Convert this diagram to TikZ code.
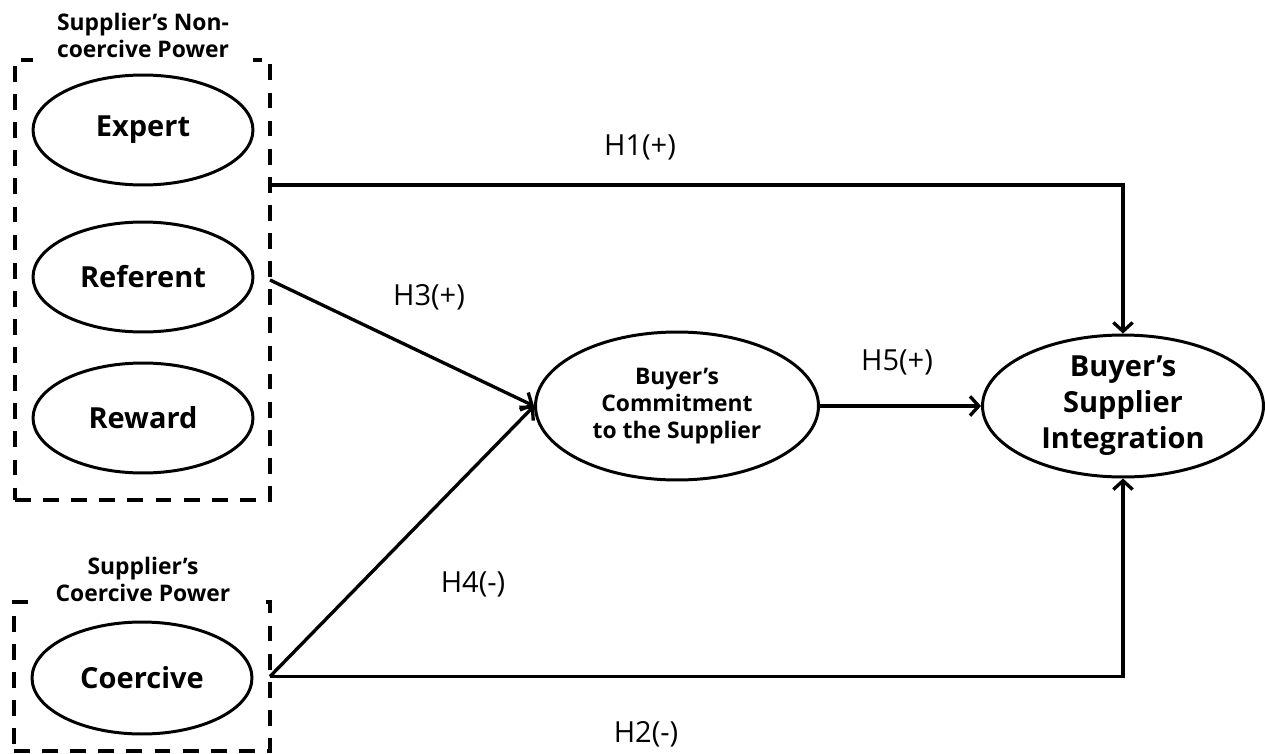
\documentclass[tikz,border=0pt]{standalone}
\usepackage{fontspec}
\setmainfont{Open Sans}
\usetikzlibrary{arrows.meta,shapes.geometric}

\begin{document}
\begin{tikzpicture}[x=0.02cm,y=-0.02cm,
  construct/.style={draw,ellipse,line width=1.7pt,inner sep=0pt,minimum width=4.4cm,minimum height=2.2cm,align=center,font=\bfseries\fontsize{16.5}{20.5}\selectfont},
  group/.style={draw,dash pattern=on 9pt off 7pt,line width=2pt,inner sep=0pt,outer sep=0pt},
  grouptitle/.style={fill=white,align=center,minimum width=4.4cm,inner ysep=8pt,font=\bfseries\fontsize{13}{15.4}\selectfont},
  hyp/.style={line width=1.9pt,-{Straight Barb[length=5pt,width=11pt,line width=1.9pt]}},
  hlabel/.style={font=\fontsize{16.5}{19}\selectfont}]
  \useasboundingbox (0,0) rectangle (1265,754);

  \node[group,minimum width=5.1cm,minimum height=8.8cm] (nonc) at (142.5,280) {};
  \node[grouptitle] (nonctitle) at (143,35) {Supplier’s Non-\\coercive Power};
  \node[group,minimum width=5.12cm,minimum height=2.98cm] (coer) at (142,676.5) {};
  \node[grouptitle] (coertitle) at (143,579) {Supplier’s\\Coercive Power};

  \node[construct] (expert) at (143,130) {Expert};
  \node[construct] (referent) at (143,277) {Referent};
  \node[construct] (reward) at (143,418) {Reward};
  \node[construct,minimum height=2.24cm] (coercive) at (142,678) {Coercive};
  \node[construct,minimum width=5.66cm,minimum height=2.96cm,font=\bfseries\fontsize{13}{15.4}\selectfont] (commit) at (677,406) {Buyer’s\\Commitment\\to the Supplier};
  \node[construct,minimum width=5.62cm,minimum height=2.84cm] (integ) at (1123,406) {Buyer’s\\Supplier\\Integration};

  \coordinate (h1from) at (270,185);
  \draw[hyp] (h1from) -| (integ.north);
  \draw[hyp] (coer.east) -| (integ.south);
  \draw[hyp] (nonc.east) -- (commit.west);
  \draw[hyp] (coer.east) -- (commit.west);
  \draw[hyp] (commit.east) -- (integ.west);

  \node[hlabel] (h1) at (640,147) {H1(+)};
  \node[hlabel] (h2) at (646,734) {H2(-)};
  \node[hlabel] (h3) at (429,297) {H3(+)};
  \node[hlabel] (h4) at (473,584) {H4(-)};
  \node[hlabel] (h5) at (897,362) {H5(+)};
\end{tikzpicture}
\end{document}
